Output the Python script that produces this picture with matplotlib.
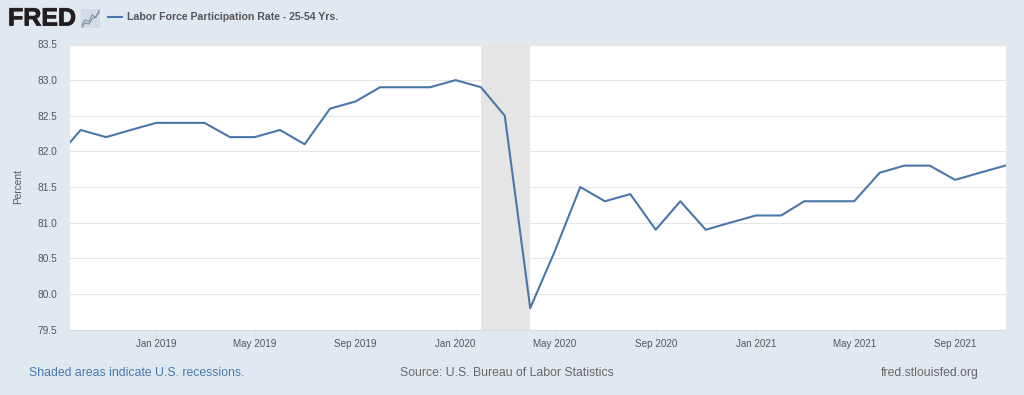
import pandas as pd
import matplotlib
matplotlib.use("Agg")
import matplotlib.pyplot as plt
import matplotlib.dates as mdates
import matplotlib.patheffects as pe

# monthly rate, Sep 2018 point sits left of the axis start
start_month = '2018-09-01'
rate = [81.9, 82.3, 82.2, 82.3, 82.4, 82.4, 82.4, 82.2, 82.2, 82.3, 82.1, 82.6, 82.7,
        82.9, 82.9, 82.9, 83.0, 82.9, 82.5, 79.8, 80.6, 81.5, 81.3, 81.4, 80.9, 81.3,
        80.9, 81.0, 81.1, 81.1, 81.3, 81.3, 81.3, 81.7, 81.8, 81.8, 81.6, 81.7, 81.8]
months = pd.date_range(start_month, periods=len(rate), freq='MS')

recession_start = pd.Timestamp('2020-02-01')
recession_end = pd.Timestamp('2020-04-01')
x_start = pd.Timestamp('2018-09-18')
x_end = pd.Timestamp('2021-11-02')

y_ticks = [79.5, 80.0, 80.5, 81.0, 81.5, 82.0, 82.5, 83.0, 83.5]
x_ticks = pd.to_datetime(['2019-01-01', '2019-05-01', '2019-09-01', '2020-01-01',
                          '2020-05-01', '2020-09-01', '2021-01-01', '2021-05-01', '2021-09-01'])

# little logo chart
logo_a = [1, 2, 1.6, 3, 2.4, 4]
logo_b = [0.5, 1.4, 1.1, 2.2, 2.6, 3.4]

bg = '#e1e9f0'
blue = '#4a77ab'
plt.rcParams['font.family'] = ['Liberation Sans', 'DejaVu Sans']

W, H = 1024, 395
fig = plt.figure(figsize=(W / 100, H / 100), dpi=100, facecolor=bg)
ax = fig.add_axes([70 / W, 1 - 329.5 / H, 936 / W, 285 / H], facecolor='white')

ax.grid(axis='y', color='#e6e6e6', linewidth=0.8, zorder=1)
ax.axvspan(recession_start, recession_end, color='#e5e5e5', linewidth=0, zorder=2)
ax.plot(months, rate, color=blue, linewidth=1.5, zorder=3)

ax.set_xlim(x_start, x_end)
ax.set_ylim(79.5, 83.5)
ax.set_yticks(y_ticks)
ax.set_yticklabels([f'{v:.1f}' for v in y_ticks])
ax.set_xticks(x_ticks)
ax.xaxis.set_major_formatter(mdates.DateFormatter('%b %Y'))
ax.tick_params(axis='y', length=0, pad=9.3, labelsize=7.3, labelcolor='#555555')
ax.tick_params(axis='x', length=6.5, width=0.7, color='#d5dde6', pad=0.5, labelsize=7.1, labelcolor='#555555')
for s in ['top', 'right', 'left']:
    ax.spines[s].set_visible(False)
ax.spines['bottom'].set_color('#d5dde6')
ax.spines['bottom'].set_linewidth(0.8)
ax.set_ylabel('Percent', fontsize=7.3, color='#555555')
ax.yaxis.set_label_coords(-47 / 936, 0.5)

# header
fig.text(8 / W, 1 - 18.5 / H, 'FRED', fontsize=18, fontweight='bold', color='#231f20', va='center', ha='left',
         path_effects=[pe.withStroke(linewidth=0.6, foreground='#231f20')])
logo = fig.add_axes([81 / W, 1 - 28 / H, 19 / W, 19 / H], facecolor='#d3dbe4')
logo.plot(logo_a, color='#7d94b5', linewidth=0.8)
logo.plot(logo_b, color='#8a8f96', linewidth=0.8)
logo.set_xticks([])
logo.set_yticks([])
for s in logo.spines.values():
    s.set_visible(False)
fig.add_artist(plt.Line2D([108 / W, 122 / W], [1 - 17 / H, 1 - 17 / H], color=blue, linewidth=1.5))
fig.text(127 / W, 1 - 17.5 / H, 'Labor Force Participation Rate - 25-54 Yrs.', fontsize=7.55,
         fontweight='bold', color='#555555', va='center', ha='left')

# footer
fig.text(29 / W, 1 - 373 / H, 'Shaded areas indicate U.S. recessions.', fontsize=8.8, color=blue, va='center', ha='left')
fig.text(507 / W, 1 - 373 / H, 'Source: U.S. Bureau of Labor Statistics', fontsize=8.8, color='#666666', va='center', ha='center')
fig.text(979 / W, 1 - 373 / H, 'fred.stlouisfed.org', fontsize=8.8, color='#666666', va='center', ha='right')

fig.savefig('out.png', dpi=100, facecolor=bg)
